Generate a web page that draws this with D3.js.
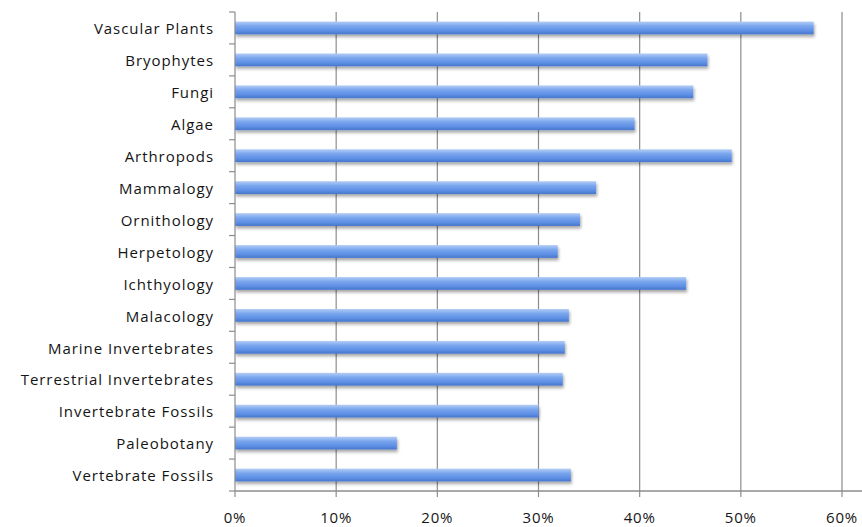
<!DOCTYPE html>
<html><head><meta charset="utf-8">
<script src="https://cdn.jsdelivr.net/npm/d3@7"></script>
<style>
html,body{margin:0;padding:0;background:#fff;}
svg{display:block;}
text{font-family:"Open Sans",sans-serif;fill:#151515;}
</style></head>
<body>
<script>
const categories = ["Vascular Plants","Bryophytes","Fungi","Algae","Arthropods","Mammalogy","Ornithology","Herpetology","Ichthyology","Malacology","Marine Invertebrates","Terrestrial Invertebrates","Invertebrate Fossils","Paleobotany","Vertebrate Fossils"];
const values = [0.572,0.467,0.453,0.395,0.491,0.357,0.341,0.319,0.446,0.330,0.326,0.324,0.300,0.160,0.332];
const xTicks = [0,0.1,0.2,0.3,0.4,0.5,0.6];

const W = 862, H = 527;
const m = {left:235, right:20, top:12, bottom:36};
const svg = d3.select("body").append("svg").attr("width",W).attr("height",H);

const x = d3.scaleLinear().domain([0,0.6]).range([m.left, W-m.right]);
const y = d3.scaleBand().domain(categories).range([m.top, H-m.bottom]).paddingInner(0.6).paddingOuter(0.3);
const yb = d3.scaleBand().domain(categories).range([m.top, H-m.bottom]);

const defs = svg.append("defs");
const g = defs.append("linearGradient").attr("id","bg").attr("x1",0).attr("y1",0).attr("x2",0).attr("y2",1);
g.append("stop").attr("offset","0%").attr("stop-color","#b3cdf5");
g.append("stop").attr("offset","35%").attr("stop-color","#7aa6ee");
g.append("stop").attr("offset","75%").attr("stop-color","#5b8de3");
g.append("stop").attr("offset","100%").attr("stop-color","#4676cc");
const f = defs.append("filter").attr("id","sh").attr("x","-5%").attr("y","-50%").attr("width","110%").attr("height","250%");
f.append("feDropShadow").attr("dx",1).attr("dy",2.5).attr("stdDeviation",1.6).attr("flood-color","#000").attr("flood-opacity",0.35);

// gridlines
svg.append("g").selectAll("line").data(xTicks.slice(1)).join("line")
  .attr("x1",d=>x(d)).attr("x2",d=>x(d)).attr("y1",m.top).attr("y2",H-m.bottom)
  .attr("stroke","#8c8c8c").attr("stroke-width",1.2);

// bars
svg.append("g").selectAll("rect").data(categories).join("rect")
  .attr("x",x(0)).attr("y",(d)=>y(d)).attr("height",y.bandwidth())
  .attr("width",(d,i)=>x(values[i])-x(0))
  .attr("fill","url(#bg)").attr("filter","url(#sh)");

// y axis
const yAxis = svg.append("g");
yAxis.append("line").attr("x1",x(0)).attr("x2",x(0)).attr("y1",m.top).attr("y2",H-m.bottom).attr("stroke","#8c8c8c").attr("stroke-width",1.2);
const bounds = categories.map(c=>yb(c)).concat([H-m.bottom]);
yAxis.selectAll("line.t").data(bounds).join("line").attr("class","t")
  .attr("x1",x(0)-6).attr("x2",x(0)).attr("y1",d=>d).attr("y2",d=>d).attr("stroke","#8c8c8c").attr("stroke-width",1.2);
yAxis.selectAll("text").data(categories).join("text")
  .attr("x",214).attr("y",d=>yb(d)+yb.bandwidth()/2+1).attr("dy","0.35em")
  .attr("text-anchor","end").attr("font-size",15).attr("letter-spacing","0.95px").text(d=>d);

// x axis
const xAxis = svg.append("g");
xAxis.append("line").attr("x1",x(0)).attr("x2",W).attr("y1",H-m.bottom).attr("y2",H-m.bottom).attr("stroke","#8c8c8c").attr("stroke-width",1.5);
xAxis.selectAll("line.t").data(xTicks).join("line").attr("class","t")
  .attr("x1",d=>x(d)).attr("x2",d=>x(d)).attr("y1",H-m.bottom).attr("y2",H-m.bottom+6).attr("stroke","#8c8c8c").attr("stroke-width",1.2);
xAxis.selectAll("text").data(xTicks).join("text")
  .attr("x",d=>x(d)).attr("y",518).attr("dy","0.35em").attr("text-anchor","middle").attr("font-size",15).attr("letter-spacing","0.8px")
  .text(d=>d3.format(".0%")(d));
</script>
</body></html>
